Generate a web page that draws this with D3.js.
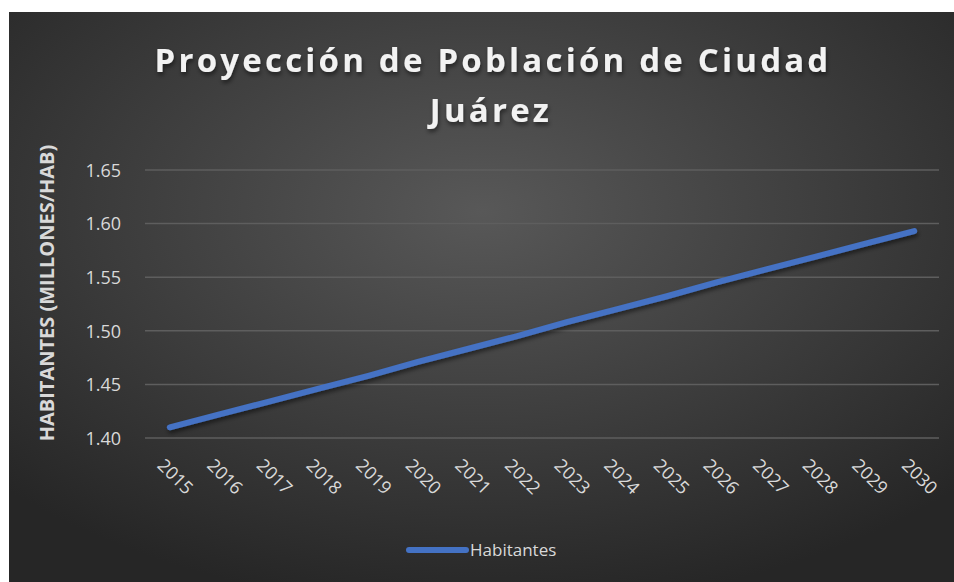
<!DOCTYPE html>
<html lang="es">
<head>
    <meta charset="UTF-8">
    <title>Proyección de Población de Ciudad Juárez</title>
    <script src="https://d3js.org/d3.v7.min.js"></script>
    <style>
        body {
            margin: 0;
            background: white;
            font-family: "Open Sans", "Noto Sans", sans-serif;
        }
        svg text {
            font-family: "Open Sans", "Noto Sans", sans-serif;
        }
        .axis text {
            fill: #d9d9d9;
            font-size: 18px;
        }
    </style>
</head>
<body>
    <div id="chart"></div>

    <script>
        const years = ["2015", "2016", "2017", "2018", "2019", "2020", "2021", "2022",
                       "2023", "2024", "2025", "2026", "2027", "2028", "2029", "2030"];
        const habitantes = [1.410, 1.422, 1.434, 1.446, 1.458, 1.471, 1.483, 1.495,
                            1.508, 1.520, 1.532, 1.545, 1.557, 1.569, 1.581, 1.593];
        const yTicks = [1.40, 1.45, 1.50, 1.55, 1.60, 1.65];
        const seriesName = "Habitantes";

        const W = 954, H = 582;
        const plot = { left: 145, right: 939, top: 170, bottom: 438 };

        const svg = d3.select("#chart").append("svg")
            .attr("width", W)
            .attr("height", H);

        const defs = svg.append("defs");
        const grad = defs.append("radialGradient")
            .attr("id", "bg")
            .attr("cx", "50%").attr("cy", "35%").attr("r", "70%");
        grad.append("stop").attr("offset", "0%").attr("stop-color", "#585858");
        grad.append("stop").attr("offset", "100%").attr("stop-color", "#262626");

        const shadow = defs.append("filter").attr("id", "shadow")
            .attr("x", "-10%").attr("y", "-10%").attr("width", "120%").attr("height", "130%");
        shadow.append("feDropShadow")
            .attr("dx", 1).attr("dy", 3).attr("stdDeviation", 2)
            .attr("flood-color", "#000").attr("flood-opacity", 0.5);

        // background
        svg.append("rect")
            .attr("x", 9).attr("y", 12)
            .attr("width", W - 9).attr("height", H - 12)
            .attr("fill", "url(#bg)");

        const x = d3.scaleBand().domain(years).range([plot.left, plot.right]);
        const y = d3.scaleLinear().domain([1.40, 1.65]).range([plot.bottom, plot.top]);

        // gridlines
        svg.append("g")
            .selectAll("line")
            .data(yTicks)
            .join("line")
            .attr("x1", plot.left).attr("x2", plot.right)
            .attr("y1", d => y(d)).attr("y2", d => y(d))
            .attr("stroke", "#5e5e5e")
            .attr("stroke-width", 1.5);

        // y axis
        const yAxis = svg.append("g")
            .attr("class", "axis")
            .attr("transform", `translate(${plot.left - 24},0)`)
            .call(d3.axisLeft(y).tickValues(yTicks).tickFormat(d3.format(".2f")).tickSize(0).tickPadding(0));
        yAxis.select(".domain").remove();
        yAxis.selectAll("text").attr("dy", "0.35em");

        // x axis
        const xAxis = svg.append("g")
            .attr("class", "axis")
            .attr("transform", `translate(0,${plot.bottom})`)
            .call(d3.axisBottom(x).tickSize(0));
        xAxis.select(".domain").remove();
        xAxis.selectAll("text")
            .attr("x", 0).attr("y", 0)
            .attr("transform", "translate(-9,24) rotate(45)")
            .style("text-anchor", "start")
            .attr("dy", "0.35em");

        // line
        const line = d3.line()
            .x((d, i) => x(years[i]) + x.bandwidth() / 2)
            .y(d => y(d));

        svg.append("path")
            .datum(habitantes)
            .attr("d", line)
            .attr("fill", "none")
            .attr("stroke", "#4472c4")
            .attr("stroke-width", 6)
            .attr("stroke-linecap", "round")
            .attr("filter", "url(#shadow)");

        // title
        const title = svg.append("text")
            .attr("text-anchor", "middle")
            .attr("fill", "#f2f2f2")
            .style("font-weight", "bold")
            .style("font-size", "33px")
            .style("letter-spacing", "3.2px")
            .attr("filter", "url(#shadow)");
        title.append("tspan").attr("x", 493).attr("y", 72).text("Proyección de Población de Ciudad");
        title.append("tspan").attr("x", 491).attr("y", 122).text("Juárez");

        // y axis title
        svg.append("text")
            .attr("transform", "translate(54,293) rotate(-90)")
            .attr("text-anchor", "middle")
            .attr("fill", "#d9d9d9")
            .style("font-weight", "bold")
            .style("font-size", "20px")
            .text("HABITANTES (MILLONES/HAB)");

        // legend
        const legend = svg.append("g").attr("transform", "translate(409,550)");
        legend.append("line")
            .attr("x1", 0).attr("x2", 57)
            .attr("y1", 0).attr("y2", 0)
            .attr("stroke", "#4472c4")
            .attr("stroke-width", 6)
            .attr("stroke-linecap", "round");
        legend.append("text")
            .attr("x", 61).attr("y", 0).attr("dy", "0.35em")
            .attr("fill", "#d9d9d9")
            .style("font-size", "17px")
            .text(seriesName);
    </script>
</body>
</html>
